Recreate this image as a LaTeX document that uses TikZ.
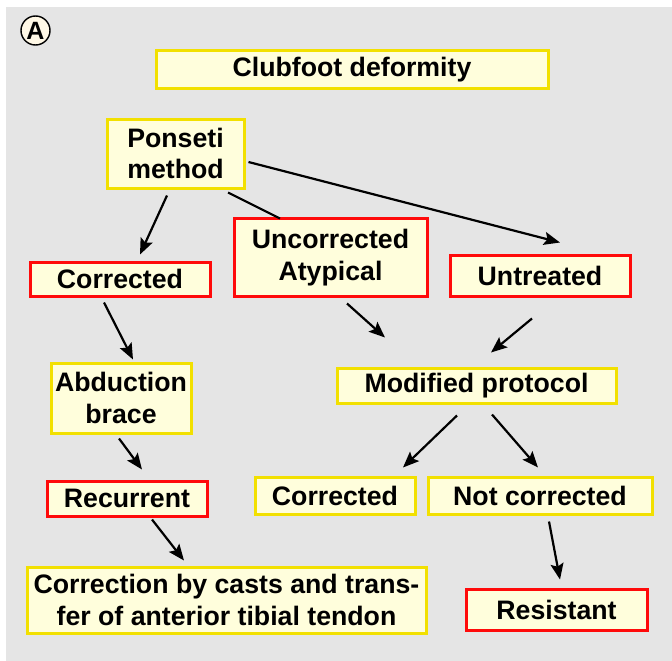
\documentclass[tikz,border=0pt]{standalone}
\usepackage{fontspec}
\setmainfont{Liberation Sans}
\usetikzlibrary{arrows.meta}
\definecolor{boxfill}{HTML}{FFFEDC}
\definecolor{boxyellow}{HTML}{F2E000}
\definecolor{boxred}{HTML}{FF0A0A}
\definecolor{bggray}{HTML}{E5E5E5}
\definecolor{lblfill}{HTML}{FFF8E6}
\begin{document}
\begin{tikzpicture}[x=1pt,y=-1pt,
		box/.style={fill=boxfill,line width=3pt,inner sep=0pt,align=center,font=\fontsize{26.7}{31.5}\selectfont\bfseries},
		ybox/.style={box,draw=boxyellow},
		rbox/.style={box,draw=boxred},
		arr/.style={line width=2.2pt,-{Stealth[length=16pt,width=13pt,inset=3pt]}}]
		\useasboundingbox (0,0) rectangle (672,661);
		\fill[bggray] (6,7) rectangle (672,661);
		\node[circle,draw,line width=1.4pt,fill=lblfill,minimum size=29pt,inner sep=0pt,font=\fontsize{25}{25}\selectfont\bfseries] (lbl) at (35.5,30.5) {A};
		\node[ybox,minimum width=392pt,minimum height=37pt] (club) at (352,69.5) {Clubfoot deformity};
		\node[ybox,minimum width=137pt,minimum height=69pt] (ponseti) at (175.5,153.5) {Ponseti\\method};
		\node[rbox,minimum width=180pt,minimum height=34pt] (corrL) at (120,279) {Corrected};
		\node[rbox,minimum width=193pt,minimum height=78pt] (uncorr) at (330.5,257.5) {Uncorrected\\Atypical};
		\node[rbox,minimum width=180pt,minimum height=41pt] (untreated) at (540,275.5) {Untreated};
		\node[ybox,minimum width=140pt,minimum height=70pt] (brace) at (121,398) {Abduction\\brace};
		\node[rbox,minimum width=160pt,minimum height=35pt] (recur) at (127,498.5) {Recurrent};
		\node[ybox,minimum width=399pt,minimum height=66pt] (casts) at (226.5,600) {Correction by casts and trans-\\fer of anterior tibial tendon};
		\node[ybox,minimum width=279pt,minimum height=35pt] (modif) at (476.5,385.5) {Modified protocol};
		\node[ybox,minimum width=160pt,minimum height=37pt] (corrR) at (335,495.5) {Corrected};
		\node[ybox,minimum width=224pt,minimum height=37pt] (notcorr) at (540,495.5) {Not corrected};
		\node[rbox,minimum width=181pt,minimum height=41pt] (resist) at (556.5,609.5) {Resistant};
		% connectors
		\draw[arr] ([xshift=-8.5pt,yshift=-6pt]ponseti.south) -- ([xshift=20pt,yshift=6pt]corrL.north);
		\draw[line width=2.2pt] ([xshift=52.5pt,yshift=-3pt]ponseti.south) -- ([xshift=-50.5pt,yshift=-1.5pt]uncorr.north);
		\draw[arr] ([xshift=3pt,yshift=-8.5pt]ponseti.east) -- ([xshift=20pt,yshift=11pt]untreated.north);
		\draw[arr] ([xshift=-16pt,yshift=-5pt]corrL.south) -- ([xshift=12pt,yshift=2pt]brace.north);
		\draw[arr] ([xshift=16.5pt,yshift=-5.5pt]uncorr.south) -- ([xshift=-91.5pt,yshift=29pt]modif.north);
		\draw[arr] ([xshift=-8pt,yshift=-21pt]untreated.south) -- ([xshift=14.5pt,yshift=14pt]modif.north);
		\draw[arr] ([xshift=-2pt,yshift=-4pt]brace.south) -- ([xshift=15pt,yshift=10pt]recur.north);
		\draw[arr] ([xshift=25pt,yshift=-2pt]recur.south) -- ([xshift=-42.5pt,yshift=5pt]casts.north);
		\draw[arr] ([xshift=-19.5pt,yshift=-11pt]modif.south) -- ([xshift=68pt,yshift=8pt]corrR.north);
		\draw[arr] ([xshift=15.5pt,yshift=-10pt]modif.south) -- ([xshift=-2pt,yshift=8pt]notcorr.north);
		\draw[arr] ([xshift=9pt,yshift=-6pt]notcorr.south) -- ([xshift=3.5pt,yshift=8pt]resist.north);
	\end{tikzpicture}
\end{document}
